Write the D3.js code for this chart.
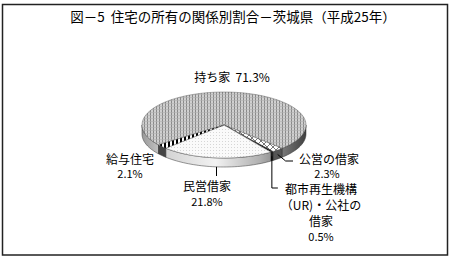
<!DOCTYPE html>
<html>
<head>
<meta charset="utf-8">
<script src="https://cdn.jsdelivr.net/npm/d3@7"></script>
<style>
  body { margin: 0; background: #fff; }
  text { font-family: "Noto Sans CJK JP", sans-serif; fill: #000; white-space: pre; }
</style>
</head>
<body>
<svg id="chart" width="451" height="258"></svg>
<script>
const title = "図－5  住宅の所有の関係別割合－茨城県（平成25年）";
const categories = ["持ち家", "公営の借家", "都市再生機構（UR)・公社の借家", "民営借家", "給与住宅"];
const values = [71.3, 2.3, 0.5, 21.8, 2.1];
const labelLines = [
    ["持ち家  71.3%"],
    ["公営の借家", "2.3%"],
    ["都市再生機構", "（UR)・公社の", "借家", "0.5%"],
    ["民営借家", "21.8%"],
    ["給与住宅", "2.1%"]
];

const svg = d3.select("#chart");

// frame
svg.append("rect")
    .attr("x", 2.5).attr("y", 4.5)
    .attr("width", 445).attr("height", 250.5)
    .attr("fill", "#fff")
    .attr("stroke", "#222")
    .attr("stroke-width", 1.5);

svg.append("text")
    .attr("x", 233).attr("y", 16)
    .attr("text-anchor", "middle")
    .attr("dominant-baseline", "central")
    .style("font-size", "13.5px")
    .text(title);

const cx = 224, cy = 125, rx = 82, ry = 33, depth = 9;
const deg = Math.PI / 180;
const start = 233 * deg;

const defs = svg.append("defs");

// patterns for the top faces
const pOwn = defs.append("pattern").attr("id", "pOwn")
    .attr("patternUnits", "userSpaceOnUse").attr("width", 3).attr("height", 3);
pOwn.append("rect").attr("width", 3).attr("height", 3).attr("fill", "#d0d0d0");
pOwn.append("rect").attr("width", 1).attr("height", 3).attr("fill", "#8a8a8a");
pOwn.append("rect").attr("y", 1).attr("width", 3).attr("height", 0.6).attr("fill", "#b0b0b0");

const pPriv = defs.append("pattern").attr("id", "pPriv")
    .attr("patternUnits", "userSpaceOnUse").attr("width", 3).attr("height", 3);
pPriv.append("rect").attr("width", 3).attr("height", 3).attr("fill", "#fafafa");
pPriv.append("rect").attr("width", 1).attr("height", 1).attr("fill", "#d6d6d6");

const pPub = defs.append("pattern").attr("id", "pPub")
    .attr("patternUnits", "userSpaceOnUse").attr("width", 6).attr("height", 6);
pPub.append("rect").attr("width", 6).attr("height", 6).attr("fill", "#fff");
pPub.append("path").attr("d", "M0,0L6,6M6,0L0,6").attr("stroke", "#555").attr("stroke-width", 0.8);

const pWage = defs.append("pattern").attr("id", "pWage")
    .attr("patternUnits", "userSpaceOnUse").attr("width", 4).attr("height", 4);
pWage.append("rect").attr("width", 4).attr("height", 4).attr("fill", "#fff");
pWage.append("rect").attr("width", 2).attr("height", 4).attr("fill", "#000");

const grad = defs.append("linearGradient").attr("id", "side")
    .attr("gradientUnits", "userSpaceOnUse")
    .attr("x1", cx - rx).attr("x2", cx + rx).attr("y1", 0).attr("y2", 0);
[[0, "#9a9a9a"], [0.15, "#d4d4d4"], [0.45, "#f2f2f2"], [0.72, "#b0b0b0"], [1, "#404040"]]
    .forEach(s => grad.append("stop").attr("offset", s[0]).attr("stop-color", s[1]));

const topFill = ["url(#pOwn)", "url(#pPub)", "#111", "url(#pPriv)", "url(#pWage)"];
const sideFill = ["url(#side)", "#555", "#111", "url(#side)", "#444"];

const pie = d3.pie().sort(null).startAngle(start).endAngle(start + 2 * Math.PI);
const arcs = pie(values);

const pt = (a, dy = 0) => [cx + rx * Math.sin(a), cy - ry * Math.cos(a) + dy];
const line = d3.line();

function rim(a0, a1, dy) {
    const n = Math.max(2, Math.ceil((a1 - a0) / (2 * deg)));
    return d3.range(n + 1).map(i => pt(a0 + (a1 - a0) * i / n, dy));
}

// side walls (front half only)
arcs.forEach((d, i) => {
    [0, 1].forEach(k => {
        const lo = Math.max(d.startAngle, Math.PI / 2 + 2 * Math.PI * k);
        const hi = Math.min(d.endAngle, 1.5 * Math.PI + 2 * Math.PI * k);
        if (hi <= lo) return;
        const pts = rim(lo, hi, 0).concat(rim(lo, hi, depth).reverse());
        svg.append("path")
            .attr("d", line(pts) + "Z")
            .attr("fill", sideFill[i])
            .attr("stroke", "#333")
            .attr("stroke-width", 0.5);
    });
});

// top faces
arcs.forEach((d, i) => {
    const pts = [[cx, cy]].concat(rim(d.startAngle, d.endAngle, 0));
    svg.append("path")
        .attr("d", line(pts) + "Z")
        .attr("fill", topFill[i])
        .attr("stroke", "#444")
        .attr("stroke-width", 0.4);
});

// labels
const labelPos = [[232, 76], [329, 158], [321, 188], [207, 185], [130, 158]];
const lineGap = [0, 15, 16, 16, 15];
labelLines.forEach((lines, i) => {
    lines.forEach((t, j) => {
        const isPct = /%$/.test(t) && lines.length > 1;
        svg.append("text")
            .attr("x", labelPos[i][0] + (isPct && i === 1 ? -2 : 0))
            .attr("y", labelPos[i][1] + j * lineGap[i])
            .attr("text-anchor", "middle")
            .attr("dominant-baseline", "central")
            .style("font-size", isPct ? "11px" : "12px")
            .text(t);
    });
});

// leader lines
const mid = d => (d.startAngle + d.endAngle) / 2;
const leader = (pts) => svg.append("path")
    .attr("d", line(pts))
    .attr("fill", "none")
    .attr("stroke", "#000")
    .attr("stroke-width", 1);

const pPubStart = pt(mid(arcs[1]), depth / 2);
leader([pPubStart, [pPubStart[0] + 8, 161], [293, 161]]);
const pUrStart = pt(mid(arcs[2]), depth / 2);
leader([pUrStart, [pUrStart[0], 188], [pUrStart[0] + 6, 188]]);
const pPrivStart = pt(mid(arcs[3]), depth);
leader([pPrivStart, [pPrivStart[0], 176]]);
</script>
</body>
</html>
